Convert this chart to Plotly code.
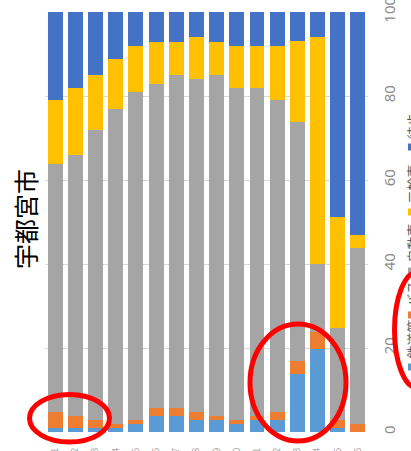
import plotly.graph_objects as go

categories = ["区分01", "区分02", "区分03", "区分04", "区分05", "区分06", "区分07", "区分08",
              "区分09", "区分10", "区分11", "区分12", "区分13", "区分14", "区分15", "区分16"]

series_names = ["鉄道等", "バス", "自動車", "二輪車", "徒歩"]
rail = [0.9, 0.9, 0.9, 0.9, 1.9, 3.8, 3.8, 2.9, 2.9, 1.9, 2.9, 2.9, 13.8, 19.8, 0.9, 0.0]
bus = [3.9, 2.9, 2.0, 1.0, 1.0, 1.9, 1.9, 1.9, 0.9, 1.0, 0.9, 1.9, 3.0, 4.0, 2.0, 1.9]
car = [59.1, 62.1, 69.1, 75.0, 78.1, 77.2, 79.2, 79.2, 81.1, 79.0, 78.1, 74.2, 57.1, 16.2, 21.9, 41.9]
bike = [15.1, 16.0, 12.9, 12.0, 11.0, 10.0, 8.0, 10.0, 8.0, 10.1, 10.1, 13.0, 19.1, 54.0, 26.4, 3.0]
walk = [21.0, 18.1, 15.1, 11.1, 8.0, 7.1, 7.1, 6.0, 7.1, 8.0, 8.0, 8.0, 7.0, 6.0, 48.8, 53.2]
colors = ["#5B9BD5", "#ED7D31", "#A5A5A5", "#FFC000", "#4472C4"]

y_ticks = [0, 20, 40, 60, 80, 100]
title_text = "宇都宮市"

W, H = 411, 451
ML, MR, MT, MB = 45, 43, 12, 19
PW, PH = W - ML - MR, H - MT - MB


def px_x(p):
    return (p - ML) / PW


def px_y(p):
    return (H - MB - p) / PH


fig = go.Figure()
for name, vals, col in zip(series_names, [rail, bus, car, bike, walk], colors):
    fig.add_trace(go.Bar(x=categories, y=vals, name=name, marker=dict(color=col, line=dict(width=0)),
                         showlegend=False))

fig.update_layout(
    template="none",
    width=W, height=H,
    margin=dict(l=ML, r=MR, t=MT, b=MB, pad=0),
    barmode="stack",
    bargap=0.26,
    paper_bgcolor="white",
    plot_bgcolor="white",
    font=dict(family="Noto Sans CJK JP, Noto Sans, sans-serif"),
    xaxis=dict(automargin=False, showgrid=False, zeroline=False, showline=False,
               tickangle=-90, ticks="", ticklabelstandoff=13, ticklabeloverflow="allow",
               tickfont=dict(size=9, color="#A0A0A0")),
    yaxis=dict(automargin=False, side="right", range=[0, 100], tickvals=y_ticks,
               showgrid=True, gridcolor="#D9D9D9", gridwidth=1.3, zeroline=False,
               showline=False, ticks="", tickangle=-90, ticklabelstandoff=11,
               ticklabeloverflow="allow",
               tickfont=dict(size=15, color="#8C8C8C", family="Noto Sans, sans-serif")),
)

# title (rotated)
fig.add_annotation(text=title_text, xref="paper", yref="paper", x=px_x(25), y=px_y(219),
                   textangle=-90, showarrow=False, xanchor="center", yanchor="middle",
                   font=dict(size=25, color="#000000", family="Noto Sans CJK JP"))

# legend (rotated, partly cut off at the right edge)
legend_marker_y = [367, 315, 271, 212, 147]
for name, col, my in zip(series_names, colors, legend_marker_y):
    fig.add_shape(type="rect", xref="paper", yref="paper",
                  x0=px_x(408), x1=px_x(415), y0=px_y(my + 3.5), y1=px_y(my - 3.5),
                  fillcolor=col, line=dict(width=0))
    fig.add_annotation(text=name, xref="paper", yref="paper", x=px_x(412), y=px_y(my - 6),
                       textangle=-90, showarrow=False, xanchor="center", yanchor="bottom",
                       font=dict(size=13, color="#595959", family="Noto Sans CJK JP"))

# red ellipses
ellipses = [(29.5, 109.5, 394.5, 442.0), (250.0, 346.0, 324.0, 441.0), (394.5, 440.0, 272.0, 388.0)]
for x0, x1, y0, y1 in ellipses:
    fig.add_shape(type="circle", xref="paper", yref="paper",
                  x0=px_x(x0), x1=px_x(x1), y0=px_y(y1), y1=px_y(y0),
                  line=dict(color="#FF0000", width=5), layer="above")

fig.write_html("out.html", config={"displayModeBar": False},
               post_script="document.body.style.margin='0';document.body.style.overflow='hidden';")
